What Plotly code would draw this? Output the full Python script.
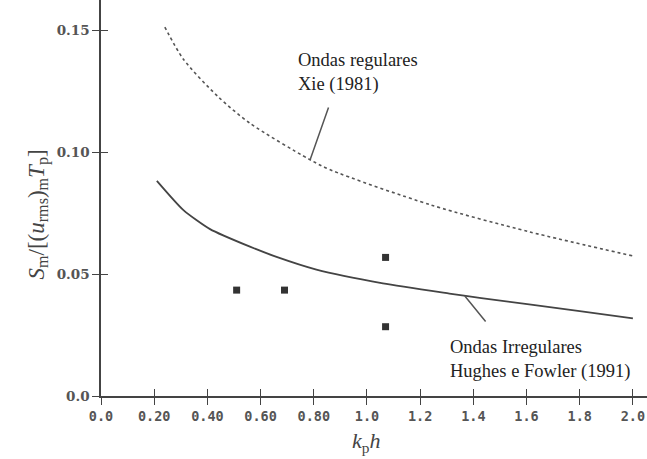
import plotly.graph_objects as go

# Hughes e Fowler (1991) - ondas irregulares (solid)
hf_x = [0.21, 0.31, 0.41, 0.56, 0.66, 0.81, 1.06, 1.31, 1.43, 1.80, 2.00]
hf_y = [0.0882, 0.0762, 0.0684, 0.0612, 0.0570, 0.0518, 0.0462, 0.0420, 0.0401, 0.0348, 0.0318]

# Xie (1981) - ondas regulares (dotted)
xie_x = [0.24, 0.31, 0.44, 0.56, 0.78, 0.86, 1.24, 1.61, 2.00]
xie_y = [0.1512, 0.1380, 0.1227, 0.1118, 0.0972, 0.0928, 0.0783, 0.0673, 0.0574]

# measured points
pts_x = [0.51, 0.69, 1.07, 1.07]
pts_y = [0.0434, 0.0434, 0.0568, 0.0284]

x_tickvals = [0.0, 0.2, 0.4, 0.6, 0.8, 1.0, 1.2, 1.4, 1.6, 1.8, 2.0]
x_ticktext = ["0.0", "0.20", "0.40", "0.60", "0.80", "1.0", "1.2", "1.4", "1.6", "1.8", "2.0"]
y_tickvals = [0.0, 0.05, 0.10, 0.15]
y_ticktext = ["0.0", "0.05", "0.10", "0.15"]

XR = [0, 2.053]
YR = [0, 0.1623]

fig = go.Figure()
fig.add_trace(go.Scatter(x=xie_x, y=xie_y, mode="lines", line=dict(color="#555", width=1.6, dash="dot", shape="spline", smoothing=0.8), showlegend=False))
fig.add_trace(go.Scatter(x=hf_x, y=hf_y, mode="lines", line=dict(color="#444", width=1.8, shape="spline", smoothing=0.6), showlegend=False))
fig.add_trace(go.Scatter(x=pts_x, y=pts_y, mode="markers", marker=dict(symbol="square", size=7, color="#333"), showlegend=False))
# invisible trace for secondary axes (inside ticks)
fig.add_trace(go.Scatter(x=[None], y=[None], xaxis="x2", yaxis="y2", showlegend=False))

fig.update_layout(
    width=647, height=459,
    margin=dict(l=101, r=0, t=0, b=63),
    paper_bgcolor="white", plot_bgcolor="white",
    xaxis=dict(range=XR, tickvals=x_tickvals, ticktext=x_ticktext, ticks="outside", ticklen=7,
               tickcolor="#444", showline=True, linecolor="#444", linewidth=1.5, showgrid=False,
               zeroline=False,
               tickfont=dict(family="DejaVu Sans Mono", size=13.5, color="#555", weight="bold")),
    yaxis=dict(range=YR, tickvals=y_tickvals, ticktext=y_ticktext, ticks="outside", ticklen=7,
               tickcolor="#444", showline=True, linecolor="#444", linewidth=1.5, showgrid=False,
               zeroline=False,
               tickfont=dict(family="DejaVu Serif", size=13.5, color="#555", weight="bold")),
    xaxis2=dict(range=XR, overlaying="x", tickvals=x_tickvals, ticks="inside", ticklen=7,
                tickcolor="#444", showticklabels=False, showgrid=False, zeroline=False, side="bottom", anchor="y"),
    yaxis2=dict(range=YR, overlaying="y", tickvals=y_tickvals, ticks="inside", ticklen=7,
                tickcolor="#444", showticklabels=False, showgrid=False, zeroline=False, side="left", anchor="x"),
)

serif = "Liberation Serif"
fig.add_annotation(xref="paper", yref="paper", x=(21 - 101) / 546, y=(396 - 215) / 396,
                   text="<i>S</i><sub>m</sub>/[(<i>u</i><sub>rms</sub>)<sub>m</sub><i>T</i><sub>p</sub>]",
                   textangle=-90, showarrow=False, font=dict(family=serif, size=23, color="#444"))
fig.add_annotation(xref="paper", yref="paper", x=(366 - 101) / 546, y=-(458 - 396) / 396,
                   yanchor="bottom",
                   text="<i>k</i><sub>p</sub><i>h</i>", showarrow=False,
                   font=dict(family=serif, size=22, color="#444"))

fig.add_annotation(x=0.733, y=0.1326, xanchor="left", yanchor="middle", align="left",
                   text="Ondas regulares<br>Xie (1981)", showarrow=False,
                   font=dict(family=serif, size=18.5, color="#222"))
fig.add_annotation(x=1.305, y=0.0149, xanchor="left", yanchor="middle", align="left",
                   text="Ondas Irregulares<br>Hughes e Fowler (1991)", showarrow=False,
                   font=dict(family=serif, size=18.5, color="#222"))

fig.add_annotation(x=0.786, y=0.0967, ax=19, ay=-54, text="", showarrow=True,
                   arrowhead=0, arrowwidth=1.5, arrowcolor="#555", standoff=0)
fig.add_annotation(x=1.368, y=0.0410, ax=22, ay=27, text="", showarrow=True,
                   arrowhead=0, arrowwidth=1.5, arrowcolor="#555", standoff=0)

fig.write_html("out.html")
